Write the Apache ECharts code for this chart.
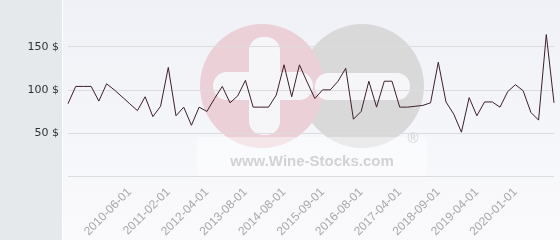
<!DOCTYPE html>
<html>
<head>
<meta charset="utf-8">
<script src="https://cdn.jsdelivr.net/npm/echarts@6/dist/echarts.min.js"></script>
<style>html,body{margin:0;padding:0;}#c{width:560px;height:240px;}</style>
</head>
<body>
<div id="c"></div>
<script>
var categories = [
  '2009-04-01','2009-06-01','2009-08-01','2009-10-01','2009-12-01','2010-01-01','2010-03-01','2010-05-01',
  '2010-06-01','2010-07-01','2010-09-01','2010-10-01','2010-12-01',
  '2011-02-01','2011-05-01','2011-08-01','2011-10-01','2012-01-01',
  '2012-04-01','2012-07-01','2012-10-01','2013-01-01','2013-05-01',
  '2013-08-01','2013-10-01','2013-12-01','2014-03-01','2014-05-01',
  '2014-08-01','2014-11-01','2015-01-01','2015-04-01','2015-06-01',
  '2015-09-01','2015-11-01','2016-01-01','2016-03-01','2016-06-01',
  '2016-08-01','2016-09-01','2016-11-01','2017-01-01','2017-02-01',
  '2017-04-01','2017-07-01','2017-10-01','2018-01-01','2018-05-01',
  '2018-09-01','2018-10-01','2018-11-01','2019-01-01','2019-02-01',
  '2019-04-01','2019-05-01','2019-07-01','2019-09-01','2019-11-01',
  '2020-01-01','2020-02-01','2020-04-01','2020-06-01','2020-08-01','2020-10-01'
];
var prices = [
  84,104,104,104,87,107,100,92,84,76,
  92,69,81,126,70,80,59,80,75,90,
  104,85,93,111,80,80,80,94,129,92,
  129,109,90,100,100,110,125,66,75,110,
  80,110,110,80,80,81,82,85,132,86,
  72,51,91,70,86,86,80,98,106,99,
  74,65,164,85
];
var tickLabels = ['2010-06-01','2011-02-01','2012-04-01','2013-08-01','2014-08-01','2015-09-01',
  '2016-08-01','2017-04-01','2018-09-01','2019-04-01','2020-01-01'];
var yTicks = [50, 100, 150];

var chart = echarts.init(document.getElementById('c'), null, {renderer: 'canvas'});
chart.setOption({
  animation: false,
  backgroundColor: {type: 'linear', x: 0, y: 0, x2: 0, y2: 1,
    colorStops: [{offset: 0, color: '#eff1f6'}, {offset: 1, color: '#fafafc'}]},
  graphic: [
    {type: 'rect', z: -5, shape: {x: 0, y: 0, width: 62, height: 240}, style: {fill: '#e5e9ec'}},
    {type: 'rect', z: -5, shape: {x: 62, y: 0, width: 1, height: 240}, style: {fill: '#ffffff'}},
    {type: 'circle', z: -4, shape: {cx: 362, cy: 86, r: 62}, style: {fill: '#d9d9da'}},
    {type: 'circle', z: -4, shape: {cx: 262, cy: 86, r: 62}, style: {fill: '#ebd0d8'}},
    {type: 'rect', z: -3, shape: {x: 249, y: 37, width: 31, height: 98, r: 14}, style: {fill: '#f6f6f9'}},
    {type: 'rect', z: -3, shape: {x: 213, y: 72, width: 100, height: 28, r: 14}, style: {fill: '#f6f6f9'}},
    {type: 'rect', z: -3, shape: {x: 315, y: 73, width: 95, height: 27, r: 13}, style: {fill: '#f6f6f9'}},
    {type: 'rect', z: -3, shape: {x: 197, y: 137, width: 230, height: 41}, style: {fill: 'rgba(255,255,255,0.45)'}},
    {type: 'text', z: -2, style: {x: 312, y: 162, text: 'www.Wine-Stocks.com', fill: '#d2d2d4',
      font: 'bold 15px "Liberation Sans", Arial, sans-serif', textAlign: 'center', textVerticalAlign: 'middle'}},
    {type: 'text', z: -2, style: {x: 413, y: 139, text: '®', fill: '#d2d2d4',
      font: '15px "Liberation Sans", Arial, sans-serif', textAlign: 'center', textVerticalAlign: 'middle'}}
  ],
  grid: {left: 68, right: 6, top: 3.5, bottom: 61.7, containLabel: false},
  xAxis: {
    type: 'category',
    data: categories,
    boundaryGap: false,
    axisLine: {show: false},
    axisTick: {show: false},
    splitLine: {show: false},
    axisLabel: {
      rotate: 45,
      margin: 14,
      color: '#a8a8a8',
      fontSize: 12,
      fontFamily: '"Liberation Sans", Arial, sans-serif',
      interval: function (i, v) { return tickLabels.indexOf(v) >= 0; }
    }
  },
  yAxis: {
    type: 'value',
    min: 0, max: 200, interval: 50,
    axisLine: {show: false},
    axisTick: {show: false},
    splitLine: {show: true, showMaxLine: false, lineStyle: {color: '#dcdcdc', width: 1}},
    axisLabel: {
      margin: 9,
      color: '#333',
      fontSize: 11,
      fontFamily: '"DejaVu Sans", sans-serif',
      formatter: function (v) { return yTicks.indexOf(v) >= 0 ? v + ' $' : ''; }
    }
  },
  series: [{
    type: 'line',
    data: prices,
    showSymbol: false,
    lineStyle: {color: '#3d1f2b', width: 1},
    z: 3
  }]
});
</script>
</body>
</html>
